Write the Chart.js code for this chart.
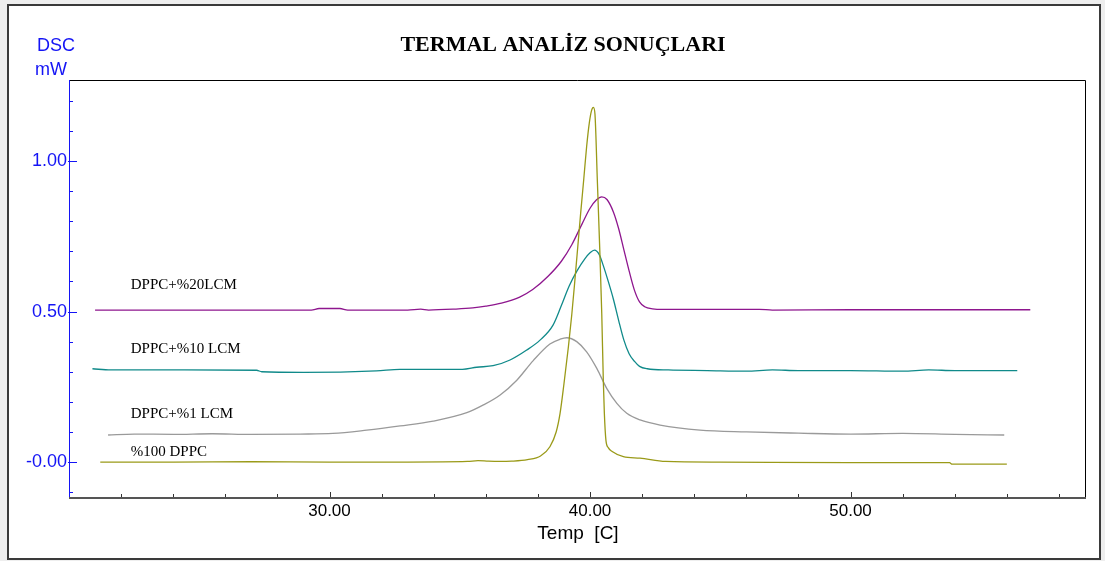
<!DOCTYPE html>
<html>
<head>
<meta charset="utf-8">
<title>TERMAL ANALİZ SONUÇLARI</title>
<script src="https://cdn.jsdelivr.net/npm/chart.js@4.4.1/dist/chart.umd.min.js"></script>
<style>
  html, body { margin: 0; padding: 0; background: #eeeeee; }
  #wrap { width: 1105px; height: 561px; }
</style>
</head>
<body>
<div id="wrap"><canvas id="c" width="1105" height="561"></canvas></div>
<script>
// ---------------- DATA ----------------
const chartTitle = 'TERMAL ANALİZ SONUÇLARI';
const yUnitLines = ['DSC', 'mW'];
const xAxisTitle = 'Temp  [C]';
const seriesNames = ['DPPC+%20LCM', 'DPPC+%10 LCM', 'DPPC+%1 LCM', '%100 DPPC'];

// DPPC+%20LCM
const temp20 = [21.0, 25.0, 29.3, 29.6, 30.4, 30.7, 33.0, 33.5, 33.8, 34.8, 35.5, 36.0, 36.6, 37.3, 37.8, 38.4, 38.9, 39.3, 39.7, 40.0, 40.25, 40.45, 40.65, 40.9, 41.1, 41.3, 41.5, 41.7, 41.9, 42.1, 42.4, 42.8, 44.0, 46.5, 47.0, 50.0, 56.9];
const dsc20  = [0.505, 0.505, 0.505, 0.510, 0.510, 0.505, 0.505, 0.508, 0.505, 0.508, 0.512, 0.518, 0.528, 0.548, 0.573, 0.618, 0.667, 0.722, 0.792, 0.843, 0.871, 0.881, 0.872, 0.830, 0.775, 0.705, 0.635, 0.572, 0.532, 0.516, 0.509, 0.507, 0.507, 0.507, 0.505, 0.506, 0.506];

// DPPC+%10 LCM
const temp10 = [20.9, 21.6, 24.0, 27.2, 27.4, 29.0, 31.8, 32.7, 35.1, 35.65, 36.28, 36.93, 37.57, 38.08, 38.58, 38.9, 39.2, 39.5, 39.8, 40.0, 40.17, 40.35, 40.5, 40.7, 40.9, 41.1, 41.3, 41.5, 41.7, 41.9, 42.2, 43.0, 44.5, 46.0, 47.0, 48.0, 50.0, 52.0, 53.0, 54.0, 56.4];
const dsc10  = [0.310, 0.306, 0.306, 0.305, 0.300, 0.298, 0.303, 0.308, 0.308, 0.315, 0.320, 0.339, 0.372, 0.405, 0.455, 0.520, 0.585, 0.635, 0.675, 0.695, 0.704, 0.690, 0.655, 0.600, 0.540, 0.470, 0.405, 0.360, 0.335, 0.318, 0.310, 0.306, 0.304, 0.302, 0.306, 0.304, 0.304, 0.302, 0.306, 0.304, 0.304];

// DPPC+%1 LCM
const temp1 = [21.5, 22.5, 24.0, 25.5, 27.0, 28.87, 30.13, 31.43, 32.71, 33.98, 35.27, 35.89, 36.55, 37.19, 37.82, 38.46, 38.85, 39.11, 39.49, 39.87, 40.26, 40.64, 41.03, 41.41, 41.92, 42.69, 44.22, 46.0, 48.0, 50.0, 52.0, 54.0, 55.9];
const dsc1  = [0.090, 0.093, 0.092, 0.094, 0.092, 0.093, 0.095, 0.106, 0.120, 0.136, 0.164, 0.189, 0.223, 0.272, 0.337, 0.392, 0.408, 0.413, 0.400, 0.366, 0.311, 0.245, 0.195, 0.162, 0.140, 0.123, 0.106, 0.100, 0.096, 0.093, 0.095, 0.092, 0.090];

// %100 DPPC
const temp100 = [21.2, 24.0, 27.0, 30.0, 33.0, 35.3, 35.7, 36.1, 36.5, 37.0, 37.6, 38.1, 38.46, 38.7, 38.85, 39.0, 39.17, 39.3, 39.42, 39.53, 39.64, 39.76, 39.87, 39.97, 40.06, 40.13, 40.19, 40.28, 40.37, 40.45, 40.51, 40.55, 40.61, 40.7, 40.85, 41.28, 41.92, 42.9, 45.0, 50.0, 53.8, 53.9, 56.0];
const dsc100  = [0.000, 0.000, 0.001, 0.000, 0.000, 0.002, 0.005, 0.003, 0.002, 0.003, 0.008, 0.020, 0.051, 0.100, 0.162, 0.260, 0.383, 0.490, 0.605, 0.715, 0.826, 0.940, 1.048, 1.125, 1.168, 1.178, 1.155, 0.937, 0.716, 0.494, 0.272, 0.162, 0.073, 0.048, 0.035, 0.018, 0.013, 0.002, 0.000, -0.002, -0.002, -0.007, -0.007];

// Axis ticks
const xMajorValues = [30, 40, 50];
const xTickLabels = ['30.00', '40.00', '50.00'];
const xMinorValues = [22, 24, 26, 28, 30, 32, 34, 36, 38, 40, 42, 44, 46, 48, 50, 52, 54, 56, 58];
const yMajorValues = [0, 0.5, 1.0];
const yTickLabels = ['-0.00', '0.50', '1.00'];
const yMinorValues = [-0.1, 0, 0.1, 0.2, 0.3, 0.4, 0.5, 0.6, 0.7, 0.8, 0.9, 1.0, 1.1, 1.2];

// ---------------- CHART ----------------
const toPoints = (xs, ys) => xs.map((x, i) => ({ x: x, y: ys[i] }));

const BLUE = '#1414f5';

const framePlugin = {
  id: 'frame',
  beforeDraw(chart) {
    const ctx = chart.ctx;
    ctx.save();
    ctx.fillStyle = '#eeeeee';
    ctx.fillRect(0, 0, chart.width, chart.height);
    ctx.fillStyle = '#ffffff';
    ctx.fillRect(8, 5, 1092, 554);
    ctx.strokeStyle = '#3a3a3a';
    ctx.lineWidth = 2;
    ctx.strokeRect(8, 5, 1092, 554);
    ctx.restore();
  },
  afterDraw(chart, args, opts) {
    const ctx = chart.ctx;
    const a = chart.chartArea;
    const xs = chart.scales.x, ys = chart.scales.y;
    ctx.save();
    // plot box
    ctx.lineWidth = 1;
    ctx.strokeStyle = '#000000';
    ctx.beginPath();
    ctx.moveTo(a.left, a.top + 0.5); ctx.lineTo(a.right + 0.5, a.top + 0.5);
    ctx.lineTo(a.right + 0.5, a.bottom);
    ctx.stroke();
    ctx.strokeStyle = '#555555';
    ctx.lineWidth = 2;
    ctx.beginPath();
    ctx.moveTo(a.left, a.bottom + 1); ctx.lineTo(a.right + 1, a.bottom + 1);
    ctx.stroke();
    ctx.strokeStyle = BLUE;
    ctx.lineWidth = 1;
    ctx.beginPath();
    ctx.moveTo(a.left + 0.5, a.top); ctx.lineTo(a.left + 0.5, a.bottom);
    ctx.stroke();
    // y ticks (inside)
    ctx.beginPath();
    yMinorValues.forEach(v => {
      const py = Math.round(ys.getPixelForValue(v)) + 0.5;
      const major = yMajorValues.some(m => Math.abs(m - v) < 1e-6);
      ctx.moveTo(a.left - (major ? 1 : 0), py);
      ctx.lineTo(a.left + (major ? 8 : 4), py);
    });
    ctx.stroke();
    // x ticks (inside)
    ctx.strokeStyle = '#333333';
    ctx.beginPath();
    xMinorValues.forEach(v => {
      const px = Math.round(xs.getPixelForValue(v)) + 0.5;
      const major = xMajorValues.indexOf(v) >= 0;
      ctx.moveTo(px, a.bottom);
      ctx.lineTo(px, a.bottom - (major ? 5 : 3));
    });
    ctx.stroke();

    // title
    ctx.fillStyle = '#000000';
    ctx.textAlign = 'center';
    ctx.textBaseline = 'alphabetic';
    ctx.font = 'bold 22px "Liberation Serif", "Times New Roman", serif';
    ctx.fillText(chartTitle, 563, 51);

    // unit label
    ctx.fillStyle = BLUE;
    ctx.textAlign = 'left';
    ctx.font = '18px "Liberation Sans", Arial, sans-serif';
    ctx.fillText(yUnitLines[0], 37, 51);
    ctx.fillText(yUnitLines[1], 35, 75);

    // x axis title
    ctx.fillStyle = '#000000';
    ctx.textAlign = 'center';
    ctx.font = '19px "Liberation Sans", Arial, sans-serif';
    ctx.fillText(xAxisTitle, 578, 539);

    // series labels
    ctx.textAlign = 'left';
    ctx.font = '15px "Liberation Serif", "Times New Roman", serif';
    opts.labels.forEach((lab, i) => {
      ctx.fillText(seriesNames[i], xs.getPixelForValue(lab.x), ys.getPixelForValue(lab.y));
    });
    ctx.restore();
  }
};

const lineDefaults = {
  borderWidth: 1.3,
  pointRadius: 0,
  fill: false,
  cubicInterpolationMode: 'monotone'
};

new Chart(document.getElementById('c'), {
  type: 'line',
  data: {
    datasets: [
      Object.assign({ label: seriesNames[3], data: toPoints(temp100, dsc100), borderColor: '#9a9a18' }, lineDefaults),
      Object.assign({ label: seriesNames[0], data: toPoints(temp20, dsc20), borderColor: '#8e168e' }, lineDefaults),
      Object.assign({ label: seriesNames[1], data: toPoints(temp10, dsc10), borderColor: '#108a8a' }, lineDefaults),
      Object.assign({ label: seriesNames[2], data: toPoints(temp1, dsc1), borderColor: '#9a9a9a' }, lineDefaults)
    ]
  },
  options: {
    responsive: false,
    animation: false,
    events: [],
    layout: { padding: { top: 80, right: 20, left: 0, bottom: 0 } },
    plugins: {
      legend: { display: false },
      title: { display: false },
      tooltip: { enabled: false },
      frame: {
        labels: [
          { x: 22.37, y: 0.575 },
          { x: 22.37, y: 0.363 },
          { x: 22.37, y: 0.146 },
          { x: 22.37, y: 0.020 }
        ]
      }
    },
    scales: {
      x: {
        type: 'linear',
        min: 20.0,
        max: 59.0,
        grid: { display: false },
        border: { display: false },
        afterBuildTicks: s => { s.ticks = xMajorValues.map(v => ({ value: v })); },
        afterFit: s => { s.height = 64; },
        ticks: {
          padding: -4,
          color: '#000000',
          font: { family: '"Liberation Sans", Arial, sans-serif', size: 17 },
          maxRotation: 0,
          autoSkip: false,
          callback: (v, i) => xTickLabels[i]
        }
      },
      y: {
        type: 'linear',
        min: -0.116,
        max: 1.269,
        grid: { display: false },
        border: { display: false },
        afterBuildTicks: s => { s.ticks = yMajorValues.map(v => ({ value: v })); },
        afterFit: s => { s.width = 69; },
        ticks: {
          padding: -6,
          color: BLUE,
          font: { family: '"Liberation Sans", Arial, sans-serif', size: 18 },
          autoSkip: false,
          callback: (v, i) => yTickLabels[i]
        }
      }
    }
  },
  plugins: [framePlugin]
});
</script>
</body>
</html>
